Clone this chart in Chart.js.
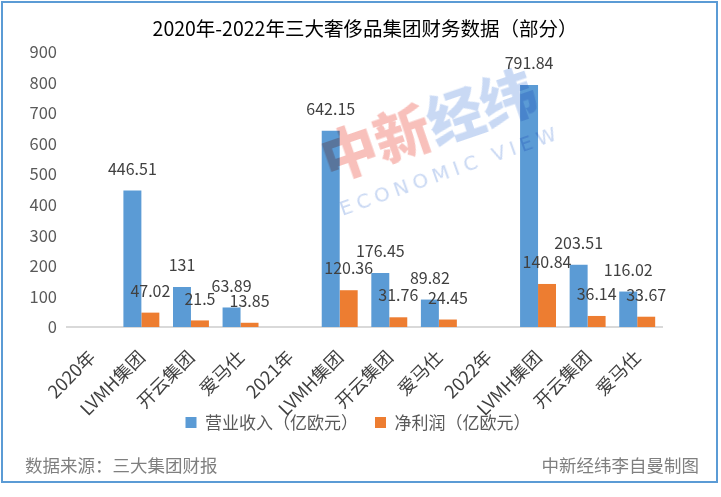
<!DOCTYPE html>
<html>
<head>
<meta charset="utf-8">
<script src="https://cdn.jsdelivr.net/npm/chart.js@4"></script>
<style>
  html, body { margin: 0; padding: 0; background: #fff; }
  #wrap { position: relative; width: 721px; height: 497px; overflow: hidden; }
  #chart { position: absolute; left: 0; top: 0; }
  #frame {
    position: absolute; left: 1px; top: 1px; width: 713px; height: 478px;
    border: 2px solid #5b9bd5; pointer-events: none;
  }
  #title {
    position: absolute; left: 0; width: 730px; top: 15px; text-align: center;
    font: 19.5px "Noto Sans CJK SC", sans-serif; color: #000; line-height: 26px;
  }
  .foot {
    position: absolute; top: 452px; font: 17.5px "Noto Sans CJK SC", sans-serif; color: #7f7f7f;
  }
  /* watermark */
  .wm { position: absolute; pointer-events: none; mix-blend-mode: multiply; white-space: nowrap; }
  #wm1 { left: 312px; top: 130px; transform: rotate(-19deg); transform-origin: left top;
         font: 900 56px "Noto Sans CJK SC", sans-serif; line-height: 60px; opacity: 0.8; }
  #wm2 { left: 336px; top: 198px; transform: rotate(-19.5deg); transform-origin: left top;
         font: 20px "DejaVu Sans", sans-serif; letter-spacing: 5px; color: #c9d8f3; }
</style>
</head>
<body>
<div id="wrap">
  <canvas id="chart" width="721" height="497"></canvas>
  <div id="title">2020年-2022年三大奢侈品集团财务数据（部分）</div>
  <div class="wm" id="wm1"><span style="color:#f6b0aa">中新</span><span style="color:#bcd0f2">经纬</span></div>
  <div class="wm" id="wm2">ECONOMIC VIEW</div>
  <div id="frame"></div>
  <div class="foot" style="left:25px">数据来源：三大集团财报</div>
  <div class="foot" style="right:22px">中新经纬李自曼制图</div>
</div>
<script>
/* Data */
const categories = ['2020年', 'LVMH集团', '开云集团', '爱马仕', '2021年', 'LVMH集团', '开云集团', '爱马仕', '2022年', 'LVMH集团', '开云集团', '爱马仕'];
const revenue = [null, 446.51, 131, 63.89, null, 642.15, 176.45, 89.82, null, 791.84, 203.51, 116.02];
const profit = [null, 47.02, 21.5, 13.85, null, 120.36, 31.76, 24.45, null, 140.84, 36.14, 33.67];
const seriesNames = ['营业收入（亿欧元）', '净利润（亿欧元）'];

const FONT = '"Noto Sans CJK SC", sans-serif';

/* Value labels above each bar */
const valueLabels = {
    id: 'valueLabels',
    afterDatasetsDraw(chart) {
        const ctx = chart.ctx;
        ctx.save();
        ctx.font = '16px ' + FONT;
        ctx.fillStyle = '#404040';
        ctx.textAlign = 'center';
        ctx.textBaseline = 'middle';
        chart.data.datasets.forEach((ds, i) => {
            chart.getDatasetMeta(i).data.forEach((bar, j) => {
                const v = ds.data[j];
                if (v === null) return;
                ctx.fillText(String(v), bar.x, bar.y - 22);
            });
        });
        ctx.restore();
    }
};

/* Legend sits a bit right of the canvas centre in the original */
const legendShift = {
    id: 'legendShift',
    afterLayout(chart) {
        chart.legend.left += 22;
        chart.legend.right += 22;
    }
};

new Chart(document.getElementById('chart'), {
    type: 'bar',
    data: {
        labels: categories,
        datasets: [{
            label: seriesNames[0],
            data: revenue,
            backgroundColor: '#5b9bd5'
        }, {
            label: seriesNames[1],
            data: profit,
            backgroundColor: '#ed7d31'
        }]
    },
    options: {
        responsive: false,
        animation: false,
        layout: { padding: { left: 10, right: 59, top: 52, bottom: 56 } },
        datasets: { bar: { barPercentage: 1, categoryPercentage: 0.725 } },
        plugins: {
            legend: {
                position: 'bottom',
                labels: {
                    color: '#595959',
                    font: { family: FONT, size: 17 },
                    boxWidth: 11,
                    boxHeight: 11,
                    padding: 17
                }
            },
            tooltip: { enabled: false }
        },
        scales: {
            x: {
                grid: { display: false, drawTicks: false },
                border: { display: true, color: '#d9d9d9', width: 2 },
                ticks: {
                    color: '#404040',
                    font: { family: FONT, size: 18 },
                    minRotation: 45,
                    maxRotation: 45,
                    autoSkip: false,
                    padding: 19
                },
                afterFit(scale) {
                    scale.height = 70;
                    // rotated labels run below the axis box, so don't clip them
                    scale._computeLabelArea = () => null;
                }
            },
            y: {
                min: 0,
                max: 900,
                grid: { display: false, drawTicks: false },
                border: { display: false },
                ticks: {
                    stepSize: 100,
                    color: '#595959',
                    font: { family: FONT, size: 16.5 },
                    padding: 10
                },
                afterFit(scale) { scale.width = 57; }
            }
        }
    },
    plugins: [valueLabels, legendShift]
});
</script>
</body>
</html>
